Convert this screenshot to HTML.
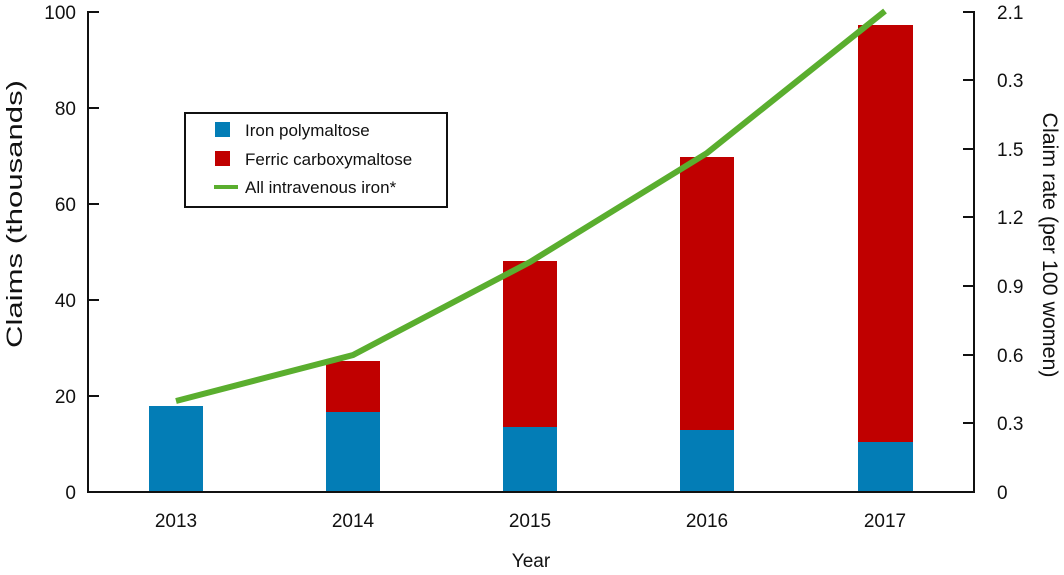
<!DOCTYPE html>
<html><head><meta charset="utf-8"><style>
body{margin:0;background:#fff;}
svg text{font-family:"Liberation Sans",sans-serif;fill:#111;}
</style></head><body>
<svg width="1064" height="570" viewBox="0 0 1064 570" xmlns="http://www.w3.org/2000/svg">
<rect x="149" y="406" width="54" height="86" fill="#037db6"/>
<rect x="326" y="412" width="54" height="80" fill="#037db6"/>
<rect x="326" y="361" width="54" height="51" fill="#c00000"/>
<rect x="503" y="427" width="54" height="65" fill="#037db6"/>
<rect x="503" y="261" width="54" height="166" fill="#c00000"/>
<rect x="680" y="430" width="54" height="62" fill="#037db6"/>
<rect x="680" y="157" width="54" height="273" fill="#c00000"/>
<rect x="858" y="442" width="55" height="50" fill="#037db6"/>
<rect x="858" y="25" width="55" height="417" fill="#c00000"/>
<polyline points="176,401 353,355 530,262 707,153 885,11" fill="none" stroke="#5aae2e" stroke-width="6"/>
<g stroke="#111" stroke-width="2" fill="none">
<polyline points="88,11 88,492 974,492 974,11"/>
<path d="M88,12h11M88,108h11M88,204h11M88,300h11M88,396h11"/>
<path d="M974,12h-11M974,80h-11M974,149h-11M974,217h-11M974,286h-11M974,355h-11M974,423h-11"/>
</g>
<g font-size="19" text-anchor="end">
<text x="76" y="19">100</text><text x="76" y="115">80</text><text x="76" y="211">60</text>
<text x="76" y="307">40</text><text x="76" y="403">20</text><text x="76" y="499">0</text>
</g>
<g font-size="19">
<text x="997" y="19">2.1</text><text x="997" y="87">0.3</text><text x="997" y="156">1.5</text>
<text x="997" y="224">1.2</text><text x="997" y="293">0.9</text><text x="997" y="362">0.6</text>
<text x="997" y="430">0.3</text><text x="997" y="499">0</text>
</g>
<g font-size="19" text-anchor="middle">
<text x="176" y="527">2013</text><text x="353" y="527">2014</text><text x="530" y="527">2015</text>
<text x="707" y="527">2016</text><text x="885" y="527">2017</text>
<text x="531" y="567">Year</text>
</g>
<text font-size="22" text-anchor="middle" textLength="268" lengthAdjust="spacingAndGlyphs" transform="translate(22,214) rotate(-90)">Claims (thousands)</text>
<text font-size="21" text-anchor="middle" textLength="265" lengthAdjust="spacingAndGlyphs" transform="translate(1043,245) rotate(90)">Claim rate (per 100 women)</text>
<rect x="185" y="113" width="262" height="94" fill="#fff" stroke="#111" stroke-width="2"/>
<rect x="215" y="122" width="15" height="15" fill="#037db6"/>
<rect x="215" y="151" width="15" height="15" fill="#c00000"/>
<line x1="214" y1="187" x2="238" y2="187" stroke="#5aae2e" stroke-width="4"/>
<g font-size="17">
<text x="245" y="136">Iron polymaltose</text>
<text x="245" y="165">Ferric carboxymaltose</text>
<text x="245" y="193">All intravenous iron*</text>
</g>
</svg>
</body></html>
